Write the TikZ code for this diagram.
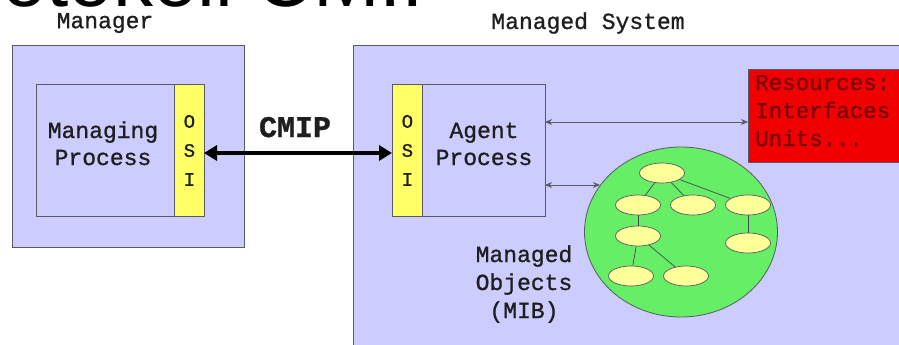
\documentclass[tikz,border=0pt]{standalone}
\usepackage{fontspec}
\setmainfont{Liberation Sans}
\newfontfamily\courfont[FakeBold=1]{Liberation Mono}
\usetikzlibrary{arrows.meta,shapes.geometric}

\definecolor{lavender}{RGB}{204,204,255}
\definecolor{osiyellow}{RGB}{255,255,102}
\definecolor{objyellow}{RGB}{255,255,153}
\definecolor{mibgreen}{RGB}{102,238,102}
\definecolor{resred}{RGB}{240,0,0}
\definecolor{restext}{RGB}{120,0,0}
\definecolor{edgegray}{RGB}{90,90,100}
\definecolor{txt}{RGB}{30,30,30}

\tikzset{
  panel/.style={draw=edgegray, line width=0.8pt, fill=lavender, anchor=north west, inner sep=0pt},
  procbox/.style={draw=edgegray, line width=0.8pt, fill=lavender, anchor=north west, inner sep=0pt,
                  minimum height=132, minimum width=123},
  osibar/.style={draw=edgegray, line width=0.8pt, fill=osiyellow, anchor=north west, inner sep=0pt,
                 minimum width=30, minimum height=132, align=center, text=txt,
                 font=\courfont\fontsize{19}{29}\selectfont},
  monolabel/.style={text=txt, inner sep=0pt, align=center,
                    font=\courfont\fontsize{23}{27}\selectfont},
  obj/.style={ellipse, draw=edgegray, line width=0.7pt, fill=objyellow,
              minimum width=45, minimum height=20, inner sep=0pt},
  treeline/.style={draw=edgegray!80!black, line width=0.7pt},
  thinlink/.style={draw=edgegray, line width=0.8pt,
                   {Stealth[length=7pt,width=6pt]}-{Stealth[length=7pt,width=6pt]}},
  cmiplink/.style={draw=black, line width=4pt,
                   {Triangle[length=13pt,width=15pt]}-{Triangle[length=13pt,width=15pt]}}
}

\begin{document}
\begin{tikzpicture}[x=1pt,y=-1pt]
\useasboundingbox (0,0) rectangle (899,345);

% heading, only its lower part lies inside the page
\node[anchor=base west, inner sep=0pt, font=\fontsize{80}{82}\selectfont] (heading)
  at (-78,7) {Protokoll CMIP};

% the two systems
\node[panel, minimum width=232, minimum height=202] (manager) at (12,45) {};
\node[panel, minimum width=600, minimum height=360] (system) at (353,45) {};
\node[monolabel] (managerlbl) at (105,23) {Manager};
\node[monolabel] (systemlbl) at (588,23) {Managed System};

% managing side (base anchor = baseline of the last line)
\node[procbox, minimum width=138] (mproc) at (36,84) {};
\node[osibar] (mosi) at (174,84) {O\\S\\I};
\node[monolabel, anchor=base] (mtext) at (103,165) {Managing\\Process};

% agent side
\node[osibar] (aosi) at (392,84) {O\\S\\I};
\node[procbox] (agent) at (422,84) {};
\node[monolabel, anchor=base] (atext) at (484,165) {Agent\\Process};

% CMIP connection
\coordinate (cmipL) at (204,153);
\coordinate (cmipR) at (392,153);
\draw[cmiplink] (cmipL) -- (cmipR);
\node[anchor=base, inner sep=0pt, text=txt, font=\courfont\bfseries\fontsize{30}{32}\selectfont]
  (cmiplbl) at (295,137) {CMIP};

% resources
\node[draw=edgegray, line width=0.8pt, fill=resred, anchor=north west, inner sep=0pt,
      minimum width=200, minimum height=93] (res) at (748,69) {};
\node[anchor=base west, inner sep=0pt, align=left, text=restext,
      font=\courfont\fontsize{22.5}{28}\selectfont] (restext) at (755,146)
  {Resources:\\Interfaces\\Units...};

% managed objects (MIB)
\node[ellipse, draw=edgegray, line width=0.8pt, fill=mibgreen, minimum width=193,
      minimum height=170, inner sep=0pt] (mib) at (681,232) {};
\node[obj] (o1) at (662,173) {};
\node[obj] (o2) at (638,205) {};
\node[obj] (o3) at (693,205) {};
\node[obj] (o4) at (748,205) {};
\node[obj] (o5) at (638,236) {};
\node[obj] (o6) at (748,243) {};
\node[obj] (o7) at (631,276) {};
\node[obj] (o8) at (686,276) {};
\draw[treeline] (o1) -- (o2);
\draw[treeline] (o1) -- (o3);
\draw[treeline] (o1) -- (o4);
\draw[treeline] (o2) -- (o5);
\draw[treeline] (o4) -- (o6);
\draw[treeline] (o5) -- (o7);
\draw[treeline] (o5) -- (o8);
\node[monolabel, anchor=base, font=\courfont\fontsize{23}{28}\selectfont] (mibtext)
  at (524,318) {Managed\\Objects\\(MIB)};

% agent links
\coordinate (resA) at (545,122);
\coordinate (mibA) at (545,185);
\draw[thinlink] (resA) -- (resA -| res.west);
\draw[thinlink] (mibA) -- (mibA -| mib.150);
\end{tikzpicture}
\end{document}
